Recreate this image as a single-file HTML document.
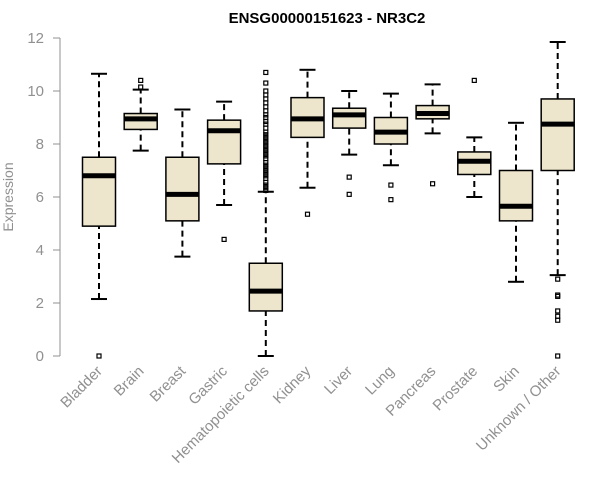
<!DOCTYPE html>
<html><head><meta charset="utf-8"><style>
html,body{margin:0;padding:0;background:#fff;}
svg{display:block;font-family:"Liberation Sans",Arial,sans-serif;}
</style></head><body>
<svg id="chart" width="600" height="500">
<text x="327" y="23" text-anchor="middle" font-weight="bold" font-size="15">ENSG00000151623 - NR3C2</text>
<text transform="translate(13,197) rotate(-90)" text-anchor="middle" font-size="14" fill="#909090">Expression</text>
<g id="axis"></g><g id="boxes"></g><g id="xlabels"></g>
</svg>
<script>
const categories=["Bladder","Brain","Breast","Gastric","Hematopoietic cells","Kidney","Liver","Lung","Pancreas","Prostate","Skin","Unknown / Other"];
const whiskLow=[2.15,7.75,3.75,5.7,0,6.35,7.6,7.2,8.4,6.0,2.8,3.05];
const q1=[4.9,8.55,5.1,7.25,1.7,8.25,8.6,8.0,8.95,6.85,5.1,7.0];
const medians=[6.8,8.95,6.1,8.5,2.45,8.95,9.1,8.45,9.15,7.35,5.65,8.75];
const q3=[7.5,9.15,7.5,8.9,3.5,9.75,9.35,9.0,9.45,7.7,7.0,9.7];
const whiskHigh=[10.65,10.05,9.3,9.6,6.2,10.8,10.0,9.9,10.25,8.25,8.8,11.85];
const outliers=[[0],[10.4,10.15],[],[4.4],[6.25,6.35,6.45,6.55,6.7,6.8,6.9,7.0,7.1,7.2,7.3,7.45,7.55,7.65,7.75,7.85,7.95,8.05,8.15,8.25,8.35,8.45,8.6,8.75,8.85,9.0,9.1,9.25,9.4,9.55,9.7,9.85,10.0,10.3,10.7],[5.35],[6.75,6.1],[6.45,5.9],[6.5],[10.4],[],[2.9,2.3,2.25,1.7,1.5,1.35,0]];
const yTicks=[0,2,4,6,8,10,12];
const NS="http://www.w3.org/2000/svg";
const y=v=>356-v*26.5;
const x=i=>99+i*41.7;
function mk(tag,attrs,parent){const e=document.createElementNS(NS,tag);for(const k in attrs)e.setAttribute(k,attrs[k]);parent.appendChild(e);return e;}
const ax=document.getElementById('axis');
const yl=mk('line',{x1:60,x2:60,y1:y(0),y2:y(12),stroke:'#909090'},ax);


yTicks.forEach(t=>{
 const tk=mk('line',{x1:53,x2:60,y1:y(t),y2:y(t),stroke:'#909090'},ax);
 
 
 const tl=mk('text',{x:44,y:y(t)+5,'text-anchor':'end','font-size':15,fill:'#909090'},ax);
 tl.textContent=t;
 
 
});
const bx=document.getElementById('boxes');
const xl=document.getElementById('xlabels');
categories.forEach((c,i)=>{
 const cx=x(i),hw=16.5;
 const g=mk('g',{},bx);
 
 
 mk('line',{x1:cx,x2:cx,y1:y(whiskLow[i]),y2:y(q1[i]),stroke:'#000','stroke-width':2,'stroke-dasharray':'6,4'},g);
 mk('line',{x1:cx,x2:cx,y1:y(q3[i]),y2:y(whiskHigh[i]),stroke:'#000','stroke-width':2,'stroke-dasharray':'6,4'},g);
 mk('line',{x1:cx-8,x2:cx+8,y1:y(whiskLow[i]),y2:y(whiskLow[i]),stroke:'#000','stroke-width':2},g);
 mk('line',{x1:cx-8,x2:cx+8,y1:y(whiskHigh[i]),y2:y(whiskHigh[i]),stroke:'#000','stroke-width':2},g);
 mk('rect',{x:cx-hw,y:y(q3[i]),width:hw*2,height:y(q1[i])-y(q3[i]),fill:'#ede6cc',stroke:'#000','stroke-width':1.5},g);
 mk('line',{x1:cx-hw,x2:cx+hw,y1:y(medians[i]),y2:y(medians[i]),stroke:'#000','stroke-width':5},g);
 outliers[i].forEach(o=>{
  const r=mk('rect',{x:cx-2,y:y(o)-2,width:4,height:4,fill:'none',stroke:'#000','stroke-width':1.2},g);
  
  
 });
 const t=mk('text',{transform:`translate(${cx+4},${372}) rotate(-45)`,'text-anchor':'end','font-size':15,fill:'#909090'},xl);
 t.textContent=c;
 
 
});
</script>
</body></html>
